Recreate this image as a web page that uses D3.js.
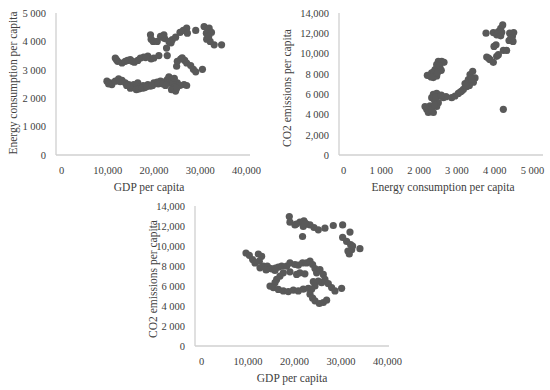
<!DOCTYPE html>
<html>
<head>
<meta charset="utf-8">
<script src="https://cdn.jsdelivr.net/npm/d3@7"></script>
<style>
  body { margin: 0; background: #fff; }
  text { font-family: "Liberation Serif", "DejaVu Serif", serif; fill: #404040; }
</style>
</head>
<body>
<div id="chart"></div>
<script>
// ---- data ----
const gdpTicks = [0, 10000, 20000, 30000, 40000];
const gdpTickLabels = ["0", "10,000", "20,000", "30,000", "40,000"];
const energyTicks = [0, 1000, 2000, 3000, 4000, 5000];
const energyTickLabels = ["0", "1 000", "2 000", "3 000", "4 000", "5 000"];
const co2Ticks = [0, 2000, 4000, 6000, 8000, 10000, 12000, 14000];
const co2TickLabelsB = ["0", "2,000", "4 000", "6 000", "8 000", "10,000", "12,000", "14,000"];
const co2TickLabelsC = ["0", "2 000", "4 000", "6 000", "8 000", "10,000", "12,000", "14,000"];

// panel A: GDP per capita vs energy consumption per capita
const gdpVsEnergy = [
  [9930,2600],[10650,2540],[11000,2480],[11740,2600],[12460,2680],[13190,2630],[13900,2540],[14640,2480],
  [15360,2400],[15720,2480],[16090,2370],[16600,2540],[17170,2400],[17755,2448],[18040,2366],[18770,2483],
  [19350,2425],[20070,2541],[20800,2565],[21520,2600],[22250,2565],[22970,2658],[23330,2751],[23700,2600],
  [24060,2483],[24420,2366],[24780,2250],[25150,2541],[25730,2448],[26600,2483],[27170,2448],
  [15000,2350],[16300,2300],[16900,2330],[17500,2350],[18500,2400],[19800,2450],[21000,2500],[22000,2500],
  [22600,2450],[23500,2700],[24000,2650],[24300,2550],[24600,2400],[23900,2300],[25000,2350],[24500,2700],
  [14200,2450],[12800,2580],[10300,2500],
  [11740,3415],[12240,3300],[13190,3240],[13900,3300],[14990,3360],[15860,3270],[16600,3330],[17170,3415],
  [17900,3450],[18770,3480],[19490,3380],[20070,3415],[21160,3500],[22820,3765],[22970,3500],[12000,3350],
  [14400,3330],[15400,3300],[18300,3430],
  [25000,3125],[25150,3300],[25870,3380],[26740,3330],[27170,3240],[28040,3150],[28620,3015],[29130,2930],
  [30580,3015],[26200,3420],
  [19350,4231],[19490,4080],[19930,4000],[20800,4000],[21520,4180],[22250,4231],[22400,4100],[23330,4000],
  [24060,4060],[24780,4150],[25730,4315],[26450,4385],[27170,4465],[27320,4290],[29130,4385],[30940,4525],
  [32030,4465],[32530,4315],[31500,4080],[32250,4000],[33120,3880],[34720,3880],[31430,4290],[31940,4180],
  [21900,4150],[23800,3950]
];

// panel B: energy consumption per capita vs CO2 emissions per capita
const energyVsCo2 = [
  [3784,12010],[3977,12075],[4066,11850],[4110,12170],[4172,12490],[4225,12820],[4172,11750],[4410,12010],
  [4481,11690],[4498,11200],[4392,11290],[4516,12075],[4440,11500],[4200,12100],[4048,10870],[3995,10700],
  [4242,10310],[4330,10310],[3802,9660],[3890,9400],[3977,9140],[4066,9725],[4110,9890],[3850,9550],
  [4242,4503],
  [2611,9235],[2522,9235],[2672,9140],[2478,8910],[2566,8580],[2434,8420],[2346,8090],[2284,7860],
  [2231,7860],[2390,7630],[2478,7800],[2550,8800],[2400,8200],[2600,8350],[2500,8100],[2330,7700],
  [2390,5970],[2478,6075],[2566,5815],[2654,5650],[2725,5750],[2346,5650],[2408,5490],[2522,5160],
  [2478,4780],[2302,4840],[2214,4510],[2258,4190],[2390,4190],[2170,4780],[2450,5700],[2600,5900],
  [2350,4400],[2420,4950],
  [2875,5650],[2963,5815],[3051,6075],[3139,6305],[3184,6470],[3272,6730],[3228,7050],[3316,7440],
  [3360,7930],[3431,8250],[3493,7600],[3449,7180],[3343,6860],[3300,7200],[3400,7500],[3100,6200],
  [3250,6900]
];

// panel C: GDP per capita vs CO2 emissions per capita
const gdpVsCo2 = [
  [18990,12940],[19130,12380],[20200,12110],[21270,12380],[22130,12510],[22700,12180],[21990,11950],
  [23440,12110],[24300,11850],[25230,11620],[26660,11780],[28450,12050],[30460,12110],[21840,10950],
  [20500,12200],[22400,12300],
  [30460,10860],[31320,10460],[32040,11390],[32180,10130],[32400,9630],[31890,9200],[32600,10000],
  [34180,9730],[31600,9500],
  [9675,9300],[10390,9070],[11110,8640],[11610,8310],[12330,9200],[13040,8970],[12540,8480],[12690,7820],
  [13400,7980],[14260,7980],[14980,7750],[15910,7550],[16630,7880],[17340,7980],[18420,7980],[19130,8310],
  [20200,8150],[20920,8080],[21840,8310],[22700,8310],[23440,8480],[24000,8150],[24510,7750],[24860,7320],
  [25580,7650],[26300,7160],[26660,6660],[25950,6330],[25230,6490],[24510,6000],[24150,6430],[27380,6230],
  [28090,5840],[28810,5510],[30240,5770],
  [17700,7320],[19130,7420],[20560,7160],[21270,7320],[22340,7220],[16990,6990],[16270,6660],[15910,6330],
  [14840,5990],[15550,5840],[16630,5660],[17700,5510],[18780,5440],[19850,5580],[20920,5510],[21990,5680],
  [23070,5770],[23790,5680],[23440,5180],[24010,4780],[24510,4520],[25450,4250],[26300,4350],[27020,4580],
  [15200,7700],[16000,7800],[14000,7600]
];

// ---- drawing ----
const svg = d3.select("#chart").append("svg")
  .attr("width", 550).attr("height", 390);

function panel(o) {
  const x = d3.scaleLinear().domain(o.xDomain).range(o.xRange);
  const y = d3.scaleLinear().domain(o.yDomain).range([o.bottom, o.top]);
  const g = svg.append("g");

  // axis lines
  g.append("line")
    .attr("x1", o.axisX).attr("x2", o.axisX)
    .attr("y1", o.top).attr("y2", o.bottom)
    .attr("stroke", "#d0d0d0").attr("stroke-width", 1.3);
  g.append("line")
    .attr("x1", o.axisX).attr("x2", o.axisRight)
    .attr("y1", o.bottom).attr("y2", o.bottom)
    .attr("stroke", "#d0d0d0").attr("stroke-width", 1.3);

  // tick labels
  const xa = g.append("g")
    .attr("transform", `translate(0,${o.bottom + 9})`)
    .call(d3.axisBottom(x).tickValues(o.xTicks).tickSize(0)
      .tickFormat((d, i) => o.xLabels[i]));
  const ya = g.append("g")
    .attr("transform", `translate(${o.axisX - 7},0)`)
    .call(d3.axisLeft(y).tickValues(o.yTicks).tickSize(0)
      .tickFormat((d, i) => o.yLabels[i]));
  [xa, ya].forEach(a => {
    a.select(".domain").remove();
    a.selectAll("text")
      .attr("fill", "#404040")
      .style("font-family", '"Liberation Serif", serif')
      .style("font-size", "10.5px");
  });

  // titles
  g.append("text")
    .attr("x", o.xTitleX)
    .attr("y", o.bottom + 36)
    .attr("text-anchor", "middle")
    .style("font-size", "11.5px")
    .text(o.xTitle);
  g.append("text")
    .attr("transform", `translate(${o.yTitleX},${o.yTitleY}) rotate(-90)`)
    .attr("text-anchor", "middle")
    .attr("dy", "0.35em")
    .style("font-size", "11.5px")
    .text(o.yTitle);

  // points
  g.selectAll("circle").data(o.data).enter().append("circle")
    .attr("cx", d => x(d[0]))
    .attr("cy", d => y(d[1]))
    .attr("r", 3.6)
    .attr("fill", "#595959");
}

panel({
  data: gdpVsEnergy, xDomain: [0, 40000], yDomain: [0, 5000],
  xRange: [61, 246], axisX: 56, axisRight: 250, top: 13, bottom: 155,
  xTicks: gdpTicks, xLabels: gdpTickLabels, yTicks: energyTicks, yLabels: energyTickLabels,
  xTitle: "GDP per capita", xTitleX: 149,
  yTitle: "Energy consumption per capita", yTitleX: 13, yTitleY: 83
});
panel({
  data: energyVsCo2, xDomain: [0, 5000], yDomain: [0, 14000],
  xRange: [343, 532], axisX: 339, axisRight: 543, top: 13, bottom: 155,
  xTicks: energyTicks, xLabels: energyTickLabels, yTicks: co2Ticks, yLabels: co2TickLabelsB,
  xTitle: "Energy consumption per capita", xTitleX: 443,
  yTitle: "CO2 emissions per capita", yTitleX: 287, yTitleY: 88
});
panel({
  data: gdpVsCo2, xDomain: [0, 40000], yDomain: [0, 14000],
  xRange: [201, 387], axisX: 195, axisRight: 389, top: 206, bottom: 346,
  xTicks: gdpTicks, xLabels: gdpTickLabels, yTicks: co2Ticks, yLabels: co2TickLabelsC,
  xTitle: "GDP per capita", xTitleX: 292,
  yTitle: "CO2 emissions per capita", yTitleX: 153, yTitleY: 279
});
</script>
</body>
</html>
